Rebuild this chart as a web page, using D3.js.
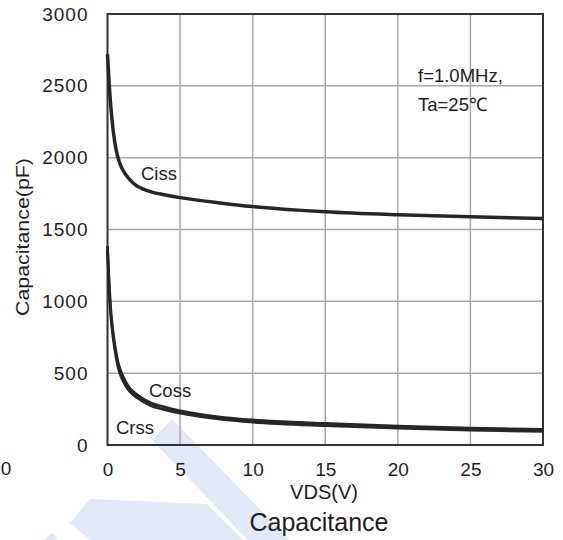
<!DOCTYPE html>
<html>
<head>
<meta charset="utf-8">
<title>Capacitance</title>
<script src="https://cdn.jsdelivr.net/npm/d3@7"></script>
<style>
    body { margin: 0; background: #fff; }
    text { font-family: "Liberation Sans", Arial, sans-serif; fill: #1e1e1e; }
</style>
</head>
<body>
<script>
    // data
    var vds  = [0, 0.25, 0.5, 0.75, 1, 1.5, 2, 3, 4, 5, 7.5, 10, 15, 20, 25, 30];
    var ciss = [2720, 2330, 2110, 1990, 1925, 1850, 1805, 1762, 1740, 1722, 1688, 1660, 1624, 1603, 1588, 1576];
    var coss = [1385, 910, 700, 566, 492, 400, 353, 292, 262, 238, 198, 174, 150, 131, 118, 108];
    var crss = [1362, 872, 668, 534, 462, 376, 331, 273, 244, 222, 183, 159, 135, 117, 104, 95];
    var xTicks = [0, 5, 10, 15, 20, 25, 30];
    var yTicks = [0, 500, 1000, 1500, 2000, 2500, 3000];

    var margin = {top: 14, right: 20, bottom: 95, left: 107.5};
    var W = 563, H = 540;
    var width = W - margin.left - margin.right;   // ~435
    var height = H - margin.top - margin.bottom;  // ~431

    var svg = d3.select("body").append("svg")
        .attr("width", W)
        .attr("height", H);

    // watermark shapes behind everything
    var wm = svg.append("g").attr("fill", "#e2e8f5");
    wm.append("polygon").attr("points", "152,440 172,419 290,540 248,540");
    wm.append("polygon").attr("points", "70,523 90,499 207,504 243,540 90,540");
    wm.append("polygon").attr("points", "44,540 52,533 58,540");

    var g = svg.append("g")
        .attr("transform", "translate(" + margin.left + "," + margin.top + ")");

    var x = d3.scaleLinear().domain([0, 30]).range([0, width]);
    var y = d3.scaleLinear().domain([0, 3000]).range([height, 0]);

    // grid
    g.append("g").selectAll("line").data(xTicks.slice(1, -1)).enter()
        .append("line")
        .attr("x1", d => x(d)).attr("x2", d => x(d))
        .attr("y1", 0).attr("y2", height)
        .attr("stroke", "#a8a8a8").attr("stroke-width", 1.5);
    g.append("g").selectAll("line").data(yTicks.slice(1, -1)).enter()
        .append("line")
        .attr("y1", d => y(d)).attr("y2", d => y(d))
        .attr("x1", 0).attr("x2", width)
        .attr("stroke", "#a8a8a8").attr("stroke-width", 1.5);

    // frame
    g.append("rect")
        .attr("width", width).attr("height", height)
        .attr("fill", "none").attr("stroke", "#333").attr("stroke-width", 2);

    // axes (labels only)
    var xAxis = g.append("g")
        .attr("transform", "translate(0," + height + ")")
        .call(d3.axisBottom(x).tickValues(xTicks).tickSize(0).tickPadding(18));
    xAxis.select(".domain").remove();
    xAxis.selectAll("text").style("font-size", "19px").attr("fill", "#1e1e1e");

    var yAxis = g.append("g")
        .call(d3.axisLeft(y).tickValues(yTicks).tickFormat(d3.format("d")).tickSize(0).tickPadding(19));
    yAxis.select(".domain").remove();
    yAxis.selectAll("text").style("font-size", "19px").style("letter-spacing", "1px").attr("fill", "#1e1e1e");

    // stray "0" at left edge
    svg.append("text")
        .attr("x", 6).attr("y", 475)
        .attr("text-anchor", "middle")
        .style("font-size", "19px")
        .text("0");

    // curves
    var line = d3.line()
        .x(d => x(d[0]))
        .y(d => y(d[1]))
        .curve(d3.curveCatmullRom.alpha(0.5));

    [crss, coss, ciss].forEach(function(s) {
        g.append("path")
            .datum(vds.map((v, i) => [v, s[i]]))
            .attr("d", line)
            .attr("fill", "none")
            .attr("stroke", "#262626")
            .attr("stroke-width", s === ciss ? 3.5 : 2.8);
    });

    // curve labels
    var labels = [
        {t: "Ciss", x: 141, y: 180},
        {t: "Coss", x: 149, y: 397},
        {t: "Crss", x: 116, y: 434},
        {t: "f=1.0MHz,", x: 418, y: 82},
        {t: "Ta=25\u2103", x: 418, y: 111}
    ];
    svg.selectAll(".lbl").data(labels).enter()
        .append("text")
        .attr("class", "lbl")
        .attr("x", d => d.x).attr("y", d => d.y)
        .style("font-size", "18.5px")
        .text(d => d.t);

    // axis titles
    svg.append("text")
        .attr("x", 324).attr("y", 499)
        .attr("text-anchor", "middle")
        .style("font-size", "20px")
        .text("VDS(V)");

    svg.append("text")
        .attr("transform", "translate(29,237) rotate(-90)")
        .attr("text-anchor", "middle")
        .attr("textLength", 158)
        .attr("lengthAdjust", "spacingAndGlyphs")
        .style("font-size", "18.5px")
        .text("Capacitance(pF)");

    svg.append("text")
        .attr("x", 319).attr("y", 531)
        .attr("text-anchor", "middle")
        .style("font-size", "25px")
        .text("Capacitance");
</script>
</body>
</html>
